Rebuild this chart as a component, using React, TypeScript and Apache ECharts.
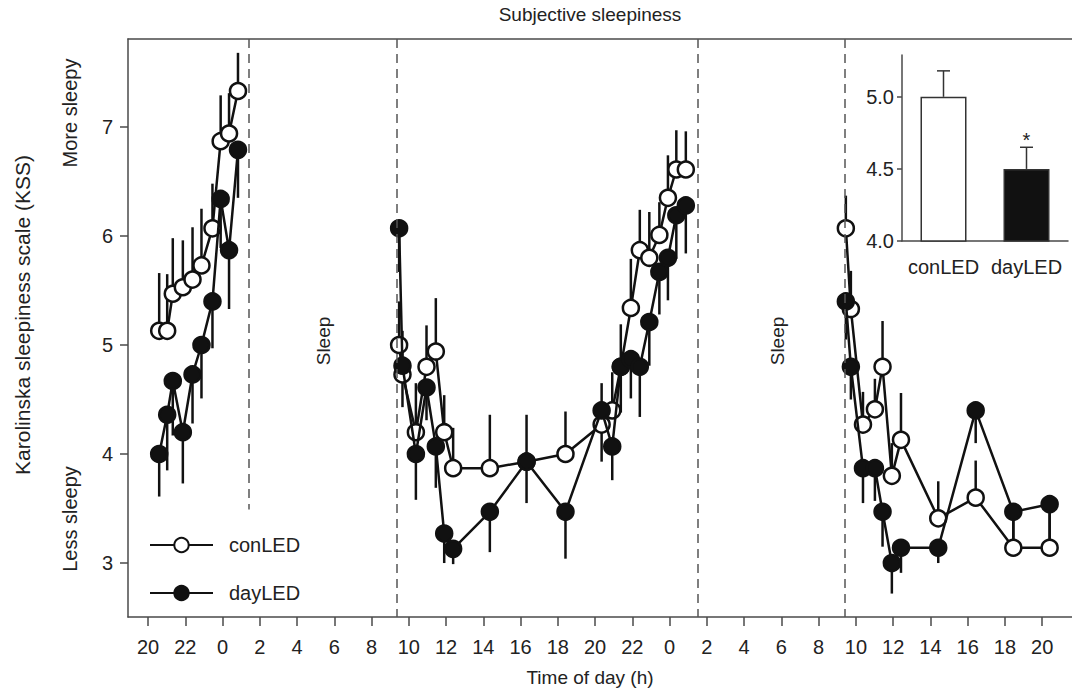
import React, { useEffect, useRef } from 'react';
import * as echarts from 'echarts';

// time of measurement, hours counted from midnight before the first evening
const day1Times = [20.6, 21.03, 21.33, 21.87, 22.39, 22.87, 23.46, 23.9, 24.35, 24.83];
const day2Times = [33.48, 33.66, 34.38, 34.95, 35.45, 35.9, 36.38, 38.35, 40.32, 42.41, 44.35, 44.92, 45.38, 45.92, 46.4, 46.91, 47.45, 47.91, 48.36, 48.87];
const day3Times = [57.46, 57.73, 58.38, 59.02, 59.43, 59.93, 60.42, 62.42, 64.43, 66.45, 68.4];

const conDay1 = [5.13, 5.13, 5.47, 5.53, 5.6, 5.73, 6.07, 6.87, 6.94, 7.33];
const conDay2 = [5.0, 4.73, 4.2, 4.8, 4.94, 4.2, 3.87, 3.87, 3.93, 4.0, 4.27, 4.4, 4.8, 5.34, 5.87, 5.8, 6.01, 6.35, 6.61, 6.61];
const conDay3 = [6.07, 5.33, 4.27, 4.41, 4.8, 3.8, 4.13, 3.41, 3.6, 3.14, 3.14];

const conErr1 = [0.53, 0.52, 0.51, 0.43, 0.48, 0.52, 0.41, 0.42, 0.37, 0.35];
const conErr2 = [0.4, 0.4, 0.45, 0.38, 0.49, 0.34, 0.37, 0.49, 0.43, 0.39, 0.38, 0.35, 0.39, 0.45, 0.37, 0.42, 0.3, 0.39, 0.36, 0.35];
const conErr3 = [0.3, 0.35, 0.3, 0.28, 0.42, 0.3, 0.43, 0.34, 0.34, 0.3, 0.4];

const dayDay1 = [4.0, 4.36, 4.67, 4.2, 4.73, 5.0, 5.4, 6.34, 5.87, 6.79];
const dayDay2 = [6.07, 4.81, 4.0, 4.61, 4.07, 3.27, 3.13, 3.47, 3.93, 3.47, 4.4, 4.07, 4.8, 4.87, 4.8, 5.21, 5.67, 5.8, 6.19, 6.28];
const dayDay3 = [5.4, 4.8, 3.87, 3.87, 3.47, 3.0, 3.14, 3.14, 4.4, 3.47, 3.54];

const dayErr1 = [0.39, 0.51, 0.5, 0.47, 0.45, 0.49, 0.43, 0.45, 0.54, 0.44];
const dayErr2 = [0.4, 0.38, 0.42, 0.3, 0.38, 0.27, 0.14, 0.37, 0.38, 0.43, 0.47, 0.31, 0.42, 0.36, 0.46, 0.4, 0.39, 0.39, 0.4, 0.44];
const dayErr3 = [0.35, 0.3, 0.32, 0.3, 0.32, 0.28, 0.23, 0.14, 0.3, 0.33, 0.4];

const sleepOnsets = [25.42, 49.52];
const wakeTimes = [33.37, 57.41];

const xTicks = [20, 22, 24, 26, 28, 30, 32, 34, 36, 38, 40, 42, 44, 46, 48, 50, 52, 54, 56, 58, 60, 62, 64, 66, 68];
const yTicks = [3, 4, 5, 6, 7];

const insetCategories = ['conLED', 'dayLED'];
const insetMeans = [5.0, 4.5];
const insetErr = [0.18, 0.15];
const insetSig = ['', '*'];
const insetTicks = [4.0, 4.5, 5.0];

const FONT = 'Liberation Sans, Arial, Helvetica, sans-serif';
const INK = '#111';
const AXIS = '#4a4a4a';
const TXT = '#222';

const X_MIN = 18.926;
const X_MAX = 69.6;
const Y_MIN = 2.505;
const Y_MAX = 7.807;

function segs(times: number[][], vals: number[][]) {
  const out: any[] = [];
  times.forEach((ts, k) => {
    if (k > 0) out.push(['-', '-']);
    ts.forEach((t, i) => out.push([t, vals[k][i]]));
  });
  return out;
}

function errData(times: number[][], vals: number[][], errs: number[][], dir: number) {
  const out: any[] = [];
  times.forEach((ts, k) => ts.forEach((t, i) => out.push([t, vals[k][i], dir * errs[k][i]])));
  return out;
}

export default function App() {
  const ref = useRef<HTMLDivElement>(null);
  useEffect(() => {
    if (!ref.current) return;
    const chart = echarts.init(ref.current, undefined, { renderer: 'svg' });
    const allTimes = [day1Times, day2Times, day3Times];

    const errRender = (params: any, api: any) => {
      const x = api.value(0);
      const y = api.value(1);
      const e = api.value(2);
      const p0 = api.coord([x, y]);
      const p1 = api.coord([x, y + e]);
      return {
        type: 'line',
        shape: { x1: p0[0], y1: p0[1], x2: p1[0], y2: p1[1] },
        style: { stroke: INK, lineWidth: 2.5 },
      };
    };

    const insetRender = (params: any, api: any) => {
      const i = api.value(0);
      const m = api.value(1);
      const e = api.value(2);
      const p0 = api.coord([i, m]);
      const p1 = api.coord([i, m + e]);
      const children: any[] = [
        { type: 'line', shape: { x1: p0[0], y1: p0[1], x2: p1[0], y2: p1[1] }, style: { stroke: '#333', lineWidth: 1.5 } },
        { type: 'line', shape: { x1: p1[0] - 6.5, y1: p1[1], x2: p1[0] + 6.5, y2: p1[1] }, style: { stroke: '#333', lineWidth: 1.5 } },
      ];
      const sig = insetSig[params.dataIndex];
      if (sig) {
        children.push({
          type: 'text',
          x: p1[0],
          y: p1[1] + 3,
          style: { text: sig, fontSize: 20, fontFamily: FONT, fill: TXT, align: 'center', verticalAlign: 'bottom' },
        });
      }
      return { type: 'group', children };
    };

    const dashStyle = { color: '#555', width: 1.5, type: [9, 6] as any };
    const frameLine = { show: true, lineStyle: { color: AXIS, width: 1.5 } };

    const option: any = {
      animation: false,
      textStyle: { fontFamily: FONT },
      grid: [
        { left: 128, top: 39, right: 0, height: 578 },
        { left: 902, top: 55, width: 166, height: 186 },
      ],
      xAxis: [
        {
          type: 'value', gridIndex: 0, min: X_MIN, max: X_MAX, position: 'bottom',
          axisLine: frameLine,
          axisTick: { show: true, length: 9, customValues: xTicks, lineStyle: { color: AXIS, width: 1.5 } },
          axisLabel: {
            customValues: xTicks, fontSize: 20, color: TXT, margin: 20, fontFamily: FONT,
            formatter: (v: number) => String(((Math.round(v) % 24) + 24) % 24),
          },
          splitLine: { show: false },
        },
        {
          type: 'category', gridIndex: 1, data: insetCategories,
          axisLine: { show: true, lineStyle: { color: AXIS, width: 1.5 } },
          axisTick: { show: false },
          axisLabel: { interval: 0, hideOverlap: false, fontSize: 20, color: TXT, margin: 16, fontFamily: FONT },
        },
        {
          type: 'value', gridIndex: 0, min: X_MIN, max: X_MAX, position: 'top',
          axisLine: frameLine, axisTick: { show: false }, axisLabel: { show: false }, splitLine: { show: false },
        },
      ],
      yAxis: [
        {
          type: 'value', gridIndex: 0, min: Y_MIN, max: Y_MAX,
          axisLine: frameLine,
          axisTick: { show: true, length: 8, customValues: yTicks, lineStyle: { color: AXIS, width: 1.5 } },
          axisLabel: { customValues: yTicks, fontSize: 20, color: TXT, margin: 15, fontFamily: FONT },
          splitLine: { show: false },
        },
        {
          type: 'value', gridIndex: 1, min: 4.0, max: 5.29,
          axisLine: { show: true, lineStyle: { color: AXIS, width: 1.5 } },
          axisTick: { show: true, length: 5, customValues: insetTicks, lineStyle: { color: AXIS, width: 1.5 } },
          axisLabel: { customValues: insetTicks, fontSize: 20, color: TXT, margin: 8, fontFamily: FONT, formatter: (v: number) => v.toFixed(1) },
          splitLine: { show: false },
        },
      ],
      legend: {
        data: ['conLED', 'dayLED'],
        orient: 'vertical',
        left: 144, top: 530,
        itemWidth: 63, itemHeight: 18, itemGap: 28,
        textStyle: { fontSize: 20, color: TXT, fontFamily: FONT, padding: [0, 0, 0, 11] },
      },
      graphic: [
        { type: 'text', x: 590, y: 14, style: { text: 'Subjective sleepiness', fontSize: 19, fontFamily: FONT, fill: TXT, align: 'center', verticalAlign: 'middle' } },
        { type: 'text', x: 590, y: 677, style: { text: 'Time of day (h)', fontSize: 19, fontFamily: FONT, fill: TXT, align: 'center', verticalAlign: 'middle' } },
        { type: 'text', x: 22, y: 315, rotation: Math.PI / 2, style: { text: 'Karolinska sleepiness scale (KSS)', fontSize: 21, fontFamily: FONT, fill: TXT, align: 'center', verticalAlign: 'middle' } },
        { type: 'text', x: 70, y: 113, rotation: Math.PI / 2, style: { text: 'More sleepy', fontSize: 20, fontFamily: FONT, fill: TXT, align: 'center', verticalAlign: 'middle' } },
        { type: 'text', x: 70, y: 519, rotation: Math.PI / 2, style: { text: 'Less sleepy', fontSize: 20, fontFamily: FONT, fill: TXT, align: 'center', verticalAlign: 'middle' } },
        { type: 'text', x: 323, y: 341, rotation: Math.PI / 2, style: { text: 'Sleep', fontSize: 19, fontFamily: FONT, fill: TXT, align: 'center', verticalAlign: 'middle' } },
        { type: 'text', x: 777, y: 341, rotation: Math.PI / 2, style: { text: 'Sleep', fontSize: 19, fontFamily: FONT, fill: TXT, align: 'center', verticalAlign: 'middle' } },
      ],
      series: [
        {
          type: 'line', xAxisIndex: 0, yAxisIndex: 0, data: [], silent: true, z: 1,
          markLine: {
            silent: true, symbol: 'none', label: { show: false }, lineStyle: dashStyle,
            data: [
              [{ coord: [sleepOnsets[0], Y_MAX] }, { coord: [sleepOnsets[0], 3.49] }],
              [{ coord: [wakeTimes[0], Y_MAX] }, { coord: [wakeTimes[0], Y_MIN] }],
              [{ coord: [sleepOnsets[1], Y_MAX] }, { coord: [sleepOnsets[1], Y_MIN] }],
              [{ coord: [wakeTimes[1], Y_MAX] }, { coord: [wakeTimes[1], Y_MIN] }],
            ],
          },
        },
        {
          type: 'custom', xAxisIndex: 0, yAxisIndex: 0, z: 2, silent: true,
          renderItem: errRender, encode: { x: 0, y: 1 },
          data: errData(allTimes, [conDay1, conDay2, conDay3], [conErr1, conErr2, conErr3], 1),
        },
        {
          type: 'custom', xAxisIndex: 0, yAxisIndex: 0, z: 2, silent: true,
          renderItem: errRender, encode: { x: 0, y: 1 },
          data: errData(allTimes, [dayDay1, dayDay2, dayDay3], [dayErr1, dayErr2, dayErr3], -1),
        },
        {
          name: 'conLED', type: 'line', xAxisIndex: 0, yAxisIndex: 0, z: 3,
          symbol: 'circle', symbolSize: 16, showAllSymbol: true, connectNulls: false,
          itemStyle: { color: '#fff', borderColor: INK, borderWidth: 2.5 },
          lineStyle: { color: INK, width: 2.5 },
          data: segs(allTimes, [conDay1, conDay2, conDay3]),
        },
        {
          name: 'dayLED', type: 'line', xAxisIndex: 0, yAxisIndex: 0, z: 4,
          symbol: 'circle', symbolSize: 16, showAllSymbol: true, connectNulls: false,
          itemStyle: { color: INK, borderColor: INK, borderWidth: 2.5 },
          lineStyle: { color: INK, width: 2.5 },
          data: segs(allTimes, [dayDay1, dayDay2, dayDay3]),
        },
        {
          type: 'bar', xAxisIndex: 1, yAxisIndex: 1, barWidth: 46, z: 2,
          data: [
            { value: insetMeans[0], itemStyle: { color: '#fff', borderColor: '#333', borderWidth: 1.5 } },
            { value: insetMeans[1], itemStyle: { color: INK, borderColor: '#333', borderWidth: 1.5 } },
          ],
        },
        {
          type: 'custom', xAxisIndex: 1, yAxisIndex: 1, z: 3, silent: true,
          renderItem: insetRender, encode: { x: 0, y: 1 },
          data: insetMeans.map((m, i) => [i, m, insetErr[i]]),
        },
      ],
    };
    chart.setOption(option);
    return () => chart.dispose();
  }, []);
  return <div ref={ref} style={{ position: 'absolute', left: 0, top: 0, width: 1072, height: 693, background: '#fff' }} />;
}
